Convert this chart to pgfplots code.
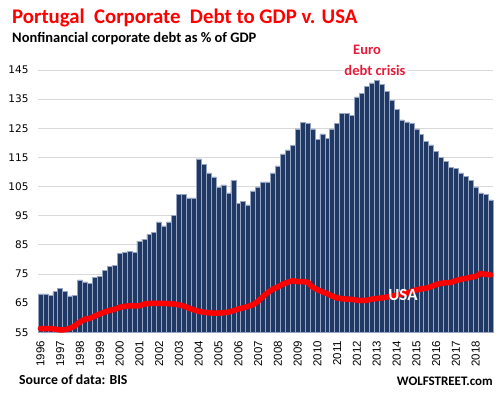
\documentclass[border=0pt]{standalone}
\usepackage{pgfplots}
\pgfplotsset{compat=1.18}
\usepackage{pgfplotstable}
\usepackage{fontspec}
\setmainfont{Carlito}
\newfontfamily\ytickfont{DejaVu Sans}
\newfontfamily\xtickfont{Liberation Sans}
\definecolor{barblue}{RGB}{31,56,100}
\definecolor{baredge}{RGB}{150,165,195}
\definecolor{gridgray}{RGB}{217,217,217}
\definecolor{crisisred}{RGB}{232,26,58}

\pgfplotstableread{
q pt usa
0 68.2 56.3
1 68.2 56.3
2 67.7 56.3
3 68.9 56.1
4 70.2 55.8
5 68.9 55.9
6 67.5 56.4
7 67.7 57.3
8 73.0 58.6
9 72.3 59.5
10 71.9 59.8
11 73.9 60.6
12 74.2 61.3
13 76.3 62.0
14 77.6 62.5
15 78.0 62.9
16 82.1 63.6
17 82.5 63.9
18 82.8 64.1
19 82.5 64.1
20 86.3 64.1
21 87.0 64.7
22 88.6 64.9
23 89.3 64.9
24 92.9 64.9
25 91.5 64.9
26 92.9 64.8
27 95.0 64.7
28 102.2 64.4
29 102.2 64.0
30 101.1 63.3
31 101.1 62.7
32 114.5 62.2
33 112.5 61.9
34 109.7 61.7
35 108.3 61.6
36 104.6 61.6
37 105.6 61.7
38 102.8 61.9
39 107.0 62.4
40 99.1 63.0
41 99.8 63.4
42 98.7 63.9
43 103.5 64.5
44 104.9 65.7
45 106.6 67.3
46 106.6 68.7
47 109.7 69.8
48 112.1 70.6
49 116.2 71.5
50 117.6 72.2
51 119.0 72.7
52 124.8 72.4
53 126.9 72.4
54 126.6 72.2
55 124.8 70.5
56 121.1 69.6
57 123.1 68.9
58 121.4 68.2
59 124.8 67.4
60 126.6 66.8
61 130.0 66.5
62 130.1 66.4
63 129.3 66.3
64 135.8 66.0
65 136.9 65.9
66 139.3 66.0
67 140.6 66.4
68 141.3 66.6
69 140.1 66.8
70 137.6 67.1
71 134.6 67.4
72 131.4 67.8
73 127.9 68.1
74 127.2 68.4
75 126.7 69.0
76 124.8 69.6
77 122.8 69.9
78 120.5 70.1
79 119.3 70.7
80 117.0 71.4
81 114.9 71.8
82 113.6 72.0
83 111.5 72.1
84 111.2 72.8
85 109.7 73.2
86 108.4 73.5
87 107.1 73.9
88 104.9 74.2
89 102.8 75.2
90 102.2 74.9
91 100.4 74.7
}\data

\begin{document}
\begin{tikzpicture}
\useasboundingbox (-38bp,-60.7bp) rectangle (463bp,332.3bp);
\begin{axis}[
  at={(0,0)}, anchor=south west,
  scale only axis, width=455bp, height=262.3bp,
  xmin=-0.5, xmax=91.5, ymin=55, ymax=145,
  ytick={55,65,...,145},
  xtick={0,4,...,88},
  xticklabels={1996,1997,1998,1999,2000,2001,2002,2003,2004,2005,2006,2007,2008,2009,2010,2011,2012,2013,2014,2015,2016,2017,2018},
  x tick label style={rotate=90, anchor=east, xshift=-5bp, font=\xtickfont\fontsize{11.5bp}{11.5bp}\selectfont},
  y tick label style={xshift=-6bp, font=\ytickfont\fontsize{10.5bp}{10.5bp}\selectfont},
  /pgf/number format/assume math mode=true,
  ymajorgrids, grid style={gridgray, line width=0.8bp},
  axis line style={draw=none},
  major tick style={draw=none},
  clip=false,
]
\addplot[ybar, bar width=1, fill=barblue, draw=baredge, line width=0.6bp] table[x=q, y=pt]{\data};
\addplot[red, line width=5.5bp, line join=round, line cap=round, mark=none] table[x=q, y=usa]{\data};
\end{axis}
\node[anchor=base west, inner sep=0pt, text=red, font=\bfseries\fontsize{20.8bp}{20.8bp}\selectfont] at (-26bp,309bp) {Portugal\ \ Corporate\ \ Debt to GDP v. USA};
\node[anchor=base west, inner sep=0pt, font=\bfseries\fontsize{14.5bp}{14.5bp}\selectfont] at (-26bp,289.6bp) {Nonfinancial corporate debt as \% of GDP};
\node[anchor=base, inner sep=0pt, text=crisisred, font=\bfseries\fontsize{14.5bp}{14.5bp}\selectfont] at (329bp,277.3bp) {Euro};
\node[anchor=base, inner sep=1bp, fill=white, text=crisisred, font=\bfseries\fontsize{14.5bp}{14.5bp}\selectfont] at (337bp,256.6bp) {debt crisis};
\node[anchor=base, inner sep=0pt, text=white, font=\bfseries\fontsize{17bp}{17bp}\selectfont] at (365bp,32.3bp) {USA};
\node[anchor=base west, inner sep=0pt, font=\bfseries\fontsize{13.8bp}{13.8bp}\selectfont] at (-19bp,-51.7bp) {Source of data: BIS};
\node[anchor=base east, inner sep=0pt, font=\bfseries\fontsize{13bp}{13bp}\selectfont] at (455bp,-52.7bp) {WOLFSTREET.com};
\end{tikzpicture}
\end{document}
